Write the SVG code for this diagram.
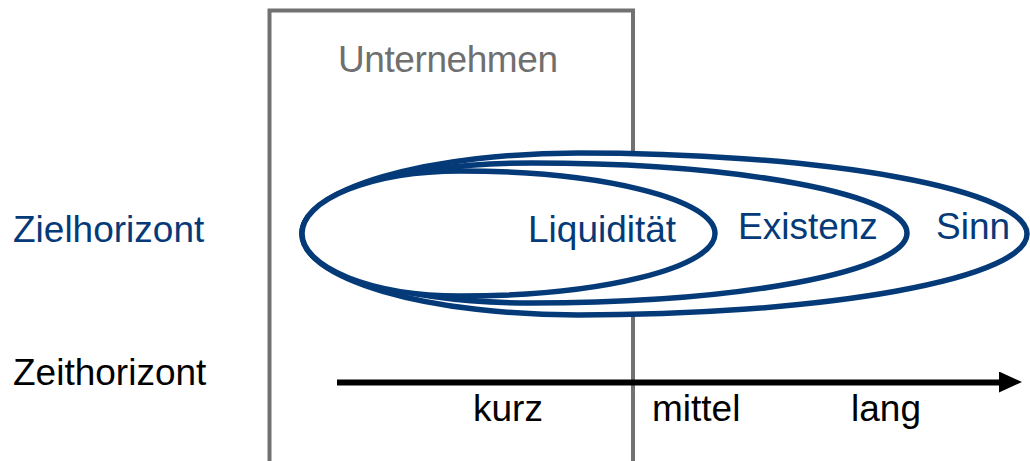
<svg xmlns="http://www.w3.org/2000/svg" width="1030" height="461" viewBox="0 0 1030 461">
  <style>
    text { font-family: "Liberation Sans", Arial, sans-serif; font-size: 37px; }
    .navy { fill: #053a78; }
    .dark { fill: #000000; }
    .grey { fill: #6f6f6f; }
    .frame { fill: none; stroke: #717171; stroke-width: 4; }
    .horizon { fill: #ffffff; stroke: #053a78; stroke-width: 5.5; }
    .timeline { stroke: #000000; stroke-width: 6; fill: none; }
  </style>
  <defs>
    <marker id="arrowhead" markerUnits="userSpaceOnUse" markerWidth="24" markerHeight="22" refX="0" refY="11" orient="auto">
      <path d="M0,0 L23,10.5 L0,21 Z" fill="#000000"/>
    </marker>
  </defs>

  <rect width="1030" height="461" fill="#ffffff"/>

  <!-- company frame -->
  <g id="unternehmen">
    <rect class="frame" x="269.5" y="10.5" width="363.5" height="460"/>
    <text class="grey" x="338" y="72" font-size="31" textLength="220" lengthAdjust="spacing">Unternehmen</text>
  </g>

  <!-- row labels -->
  <g id="zielhorizont">
    <text class="navy" x="13" y="242">Zielhorizont</text>
  </g>
  <g id="zeithorizont">
    <text class="dark" x="13" y="385">Zeithorizont</text>
  </g>

  <!-- nested goal horizons, outermost first -->
  <g id="sinn">
    <path class="horizon" d="M302,234 A276,81 0 0 1 578,153 A449,81 0 0 1 1027,234 A449,81 0 0 1 578,315 A276,81 0 0 1 302,234 Z"/>
    <text class="navy" x="936" y="239">Sinn</text>
  </g>
  <g id="existenz">
    <path class="horizon" d="M302,233 A230,70 0 0 1 532,163 A375,70 0 0 1 907,233 A375,70 0 0 1 532,303 A230,70 0 0 1 302,233 Z"/>
    <text class="navy" x="738" y="239">Existenz</text>
  </g>
  <g id="liquiditaet">
    <path class="horizon" d="M302,233.5 A158,62.5 0 0 1 460,171 A255,62.5 0 0 1 715,233.5 A255,62.5 0 0 1 460,296 A158,62.5 0 0 1 302,233.5 Z"/>
    <text class="navy" x="528" y="242">Liquidität</text>
  </g>

  <!-- time axis -->
  <g id="connectors">
    <line class="timeline" x1="337" y1="382.5" x2="999" y2="382.5" marker-end="url(#arrowhead)"/>
  </g>
  <g id="zeitachse-labels">
    <text class="dark" x="473" y="421">kurz</text>
    <text class="dark" x="652" y="421">mittel</text>
    <text class="dark" x="851" y="421">lang</text>
  </g>
</svg>
